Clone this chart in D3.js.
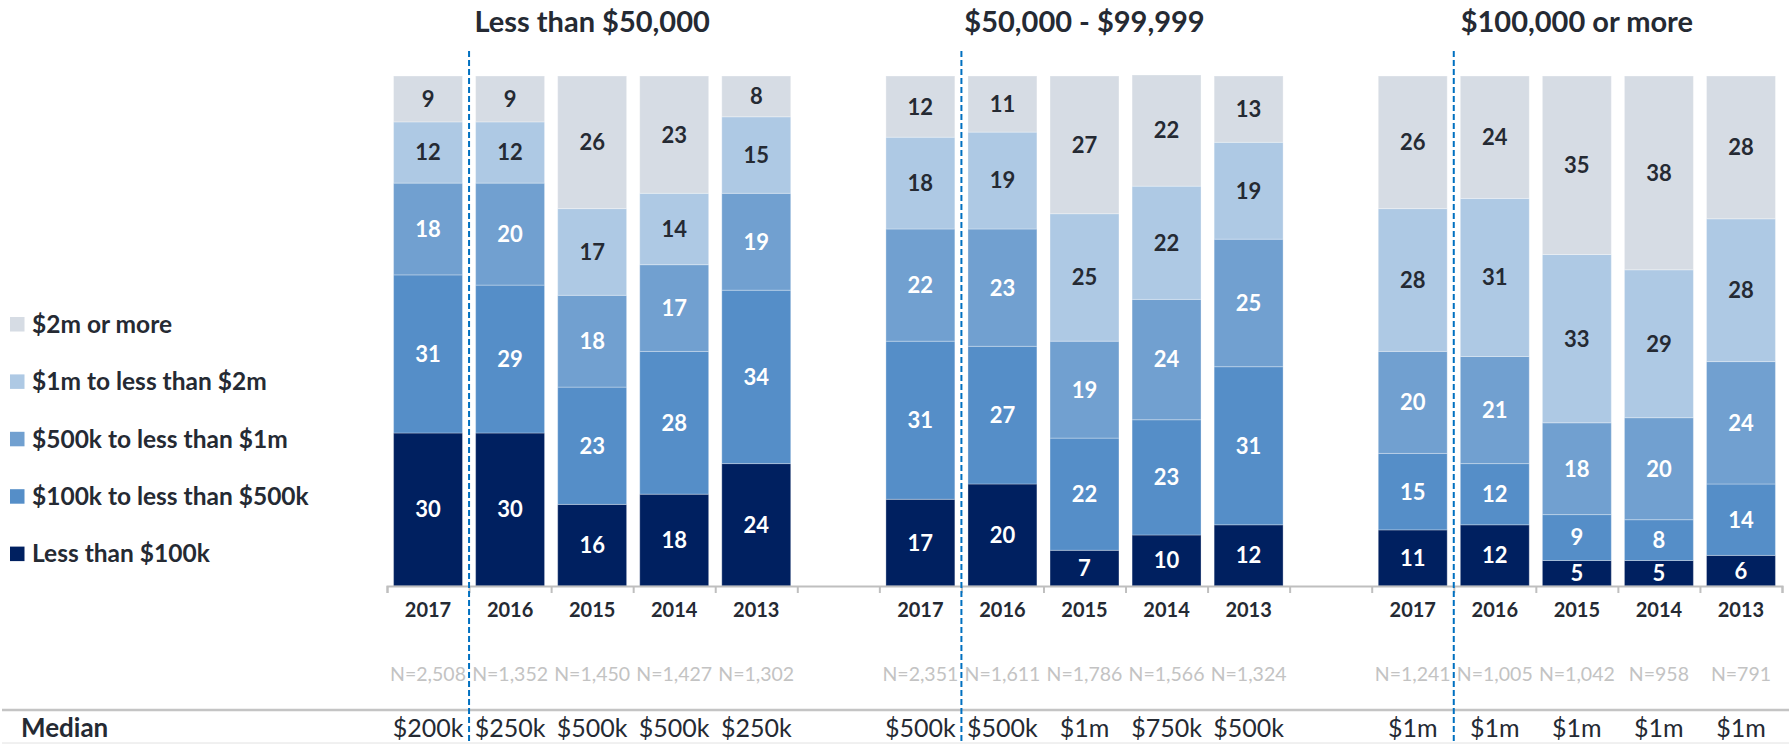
<!DOCTYPE html>
<html>
<head>
<meta charset="utf-8">
<script src="https://cdn.jsdelivr.net/npm/d3@7"></script>
<style>
  body { margin: 0; background: #fff; }
  svg { display: block; font-family: Lato, "Open Sans", sans-serif; }
</style>
</head>
<body>
<svg id="chart"></svg>
<script>
// Income groups and survey years
var groups = ['Less than $50,000', '$50,000 - $99,999', '$100,000 or more'];
var years = ['2017', '2016', '2015', '2014', '2013'];

// Series, bottom of the stack first
var seriesNames = ['Less than $100k', '$100k to less than $500k', '$500k to less than $1m',
                   '$1m to less than $2m', '$2m or more'];
var seriesColors = ['#002060', '#558ec8', '#71a0d0', '#aec9e4', '#d6dce4'];

// Percentages, 5 years per group, groups in order
var lessThan100k = [30, 30, 16, 18, 24,  17, 20, 7, 10, 12,  11, 12, 5, 5, 6];
var from100kTo500k = [31, 29, 23, 28, 34,  31, 27, 22, 22.6, 31,  15, 12, 9, 8, 14];
var from500kTo1m = [18, 20, 18, 17, 19,  22, 23, 19, 23.6, 25,  20, 21, 18, 20, 24];
var from1mTo2m = [12, 12, 17, 14, 15,  18, 19, 25, 22.2, 19,  28, 31, 33, 29, 28];
var over2m = [9, 9, 26, 23, 8,  12, 11, 27, 21.8, 13,  26, 24, 35, 38, 28];

// Sample sizes and medians under each bar
var sampleSizes = ['N=2,508', 'N=1,352', 'N=1,450', 'N=1,427', 'N=1,302',
                   'N=2,351', 'N=1,611', 'N=1,786', 'N=1,566', 'N=1,324',
                   'N=1,241', 'N=1,005', 'N=1,042', 'N=958', 'N=791'];
var medians = ['$200k', '$250k', '$500k', '$500k', '$250k',
               '$500k', '$500k', '$1m', '$750k', '$500k',
               '$1m', '$1m', '$1m', '$1m', '$1m'];

var W = 1789, H = 744;
var svg = d3.select('#chart').attr('width', W).attr('height', H);

// Build one row per bar, with an empty slot between groups
var seriesValues = [lessThan100k, from100kTo500k, from500kTo1m, from1mTo2m, over2m];
var rows = [];
var slots = [];
groups.forEach(function(g, gi) {
  years.forEach(function(y, yi) {
    var i = gi * years.length + yi;
    var row = {key: gi + '-' + y, group: gi, year: y, n: sampleSizes[i], median: medians[i]};
    seriesNames.forEach(function(s, si) { row[s] = seriesValues[si][i]; });
    rows.push(row);
    slots.push(row.key);
  });
  if (gi < groups.length - 1) slots.push('gap' + gi);
});

var plotLeft = 387, plotRight = 1782, plotTop = 76, plotBottom = 586;
var x = d3.scaleBand().domain(slots).range([plotLeft, plotRight]).paddingInner(0.16).paddingOuter(0.08);
var slotScale = d3.scaleLinear().domain([0, slots.length]).range([plotLeft, plotRight]);
var y = d3.scaleLinear().domain([0, 100]).range([plotBottom, plotTop]);

var stacked = d3.stack().keys(seriesNames)(rows);

// Bars
var layers = svg.append('g').selectAll('g')
  .data(stacked)
  .enter().append('g')
  .attr('fill', function(d, i) { return seriesColors[i]; });

layers.selectAll('rect')
  .data(function(d) { return d; })
  .enter().append('rect')
  .attr('x', function(d) { return x(d.data.key); })
  .attr('width', x.bandwidth())
  .attr('y', function(d) { return y(d[1]); })
  .attr('height', function(d) { return y(d[0]) - y(d[1]); })
  .attr('stroke', 'rgba(255,255,255,0.3)')
  .attr('stroke-width', 1);

// Data labels (rounded, as printed on the chart)
layers.each(function(layer, li) {
  d3.select(this).selectAll('text')
    .data(layer)
    .enter().append('text')
    .attr('x', function(d) { return x(d.data.key) + x.bandwidth() / 2; })
    .attr('y', function(d) { return (y(d[0]) + y(d[1])) / 2; })
    .attr('dy', '0.36em')
    .attr('text-anchor', 'middle')
    .attr('font-size', 22)
    .attr('font-weight', 'bold')
    .attr('fill', li >= 3 ? '#252a33' : '#ffffff')
    .text(function(d) { return Math.round(d.data[layer.key]); });
});

// Category axis with ticks at slot boundaries
var axis = d3.axisBottom(slotScale).ticks(slots.length).tickSize(7).tickSizeOuter(7)
  .tickFormat('');
var axisG = svg.append('g').attr('transform', 'translate(0,' + plotBottom + ')').call(axis);
axisG.selectAll('path, line').attr('stroke', '#bfbfbf').attr('stroke-width', 2);

// Year labels, N and medians
var center = function(d) { return x(d.key) + x.bandwidth() / 2; };
svg.append('g').selectAll('text').data(rows).enter().append('text')
  .attr('x', center).attr('y', 617)
  .attr('text-anchor', 'middle').attr('font-size', 20).attr('font-weight', 'bold')
  .attr('fill', '#252a33')
  .text(function(d) { return d.year; });

svg.append('g').selectAll('text').data(rows).enter().append('text')
  .attr('x', center).attr('y', 681)
  .attr('text-anchor', 'middle').attr('font-size', 19.5)
  .attr('fill', '#c3c3c3')
  .text(function(d) { return d.n; });

svg.append('g').selectAll('text').data(rows).enter().append('text')
  .attr('x', center).attr('y', 737)
  .attr('text-anchor', 'middle').attr('font-size', 25)
  .attr('fill', '#252a33')
  .text(function(d) { return d.median; });

// Median row lines
svg.append('line').attr('x1', 2).attr('x2', W).attr('y1', 710).attr('y2', 710)
  .attr('stroke', '#c4c4c4').attr('stroke-width', 2.5);
svg.append('line').attr('x1', 2).attr('x2', W).attr('y1', 743).attr('y2', 743)
  .attr('stroke', '#e2e2e2').attr('stroke-width', 1);
svg.append('text').attr('x', 21).attr('y', 737)
  .attr('font-size', 26).attr('font-weight', 'bold').attr('fill', '#252a33')
  .text('Median');

// Group titles and dashed separators
groups.forEach(function(g, gi) {
  var first = x(gi + '-' + years[0]) - x.step() * x.paddingInner() / 2;
  var last = x(gi + '-' + years[years.length - 1]) + x.bandwidth() + x.step() * x.paddingInner() / 2;
  svg.append('text')
    .attr('x', (first + last) / 2).attr('y', 32)
    .attr('text-anchor', 'middle').attr('font-size', 29).attr('font-weight', 'bold')
    .attr('fill', '#252a33')
    .text(g);
  var dx = first + x.step();
  svg.append('line')
    .attr('x1', dx).attr('x2', dx).attr('y1', 51).attr('y2', H)
    .attr('stroke', '#0070c0').attr('stroke-width', 2)
    .attr('stroke-dasharray', '6,3');
});

// Legend, top series first
var legend = svg.append('g').selectAll('g')
  .data(seriesNames.slice().reverse())
  .enter().append('g')
  .attr('transform', function(d, i) { return 'translate(10,' + (324 + i * 57.4) + ')'; });
legend.append('rect')
  .attr('x', 0).attr('y', -7).attr('width', 14.5).attr('height', 14.5)
  .attr('fill', function(d) { return seriesColors[seriesNames.indexOf(d)]; });
legend.append('text')
  .attr('x', 22).attr('dy', '0.36em')
  .attr('font-size', 24.5).attr('font-weight', 'bold').attr('fill', '#252a33')
  .text(function(d) { return d; });
</script>
</body>
</html>
